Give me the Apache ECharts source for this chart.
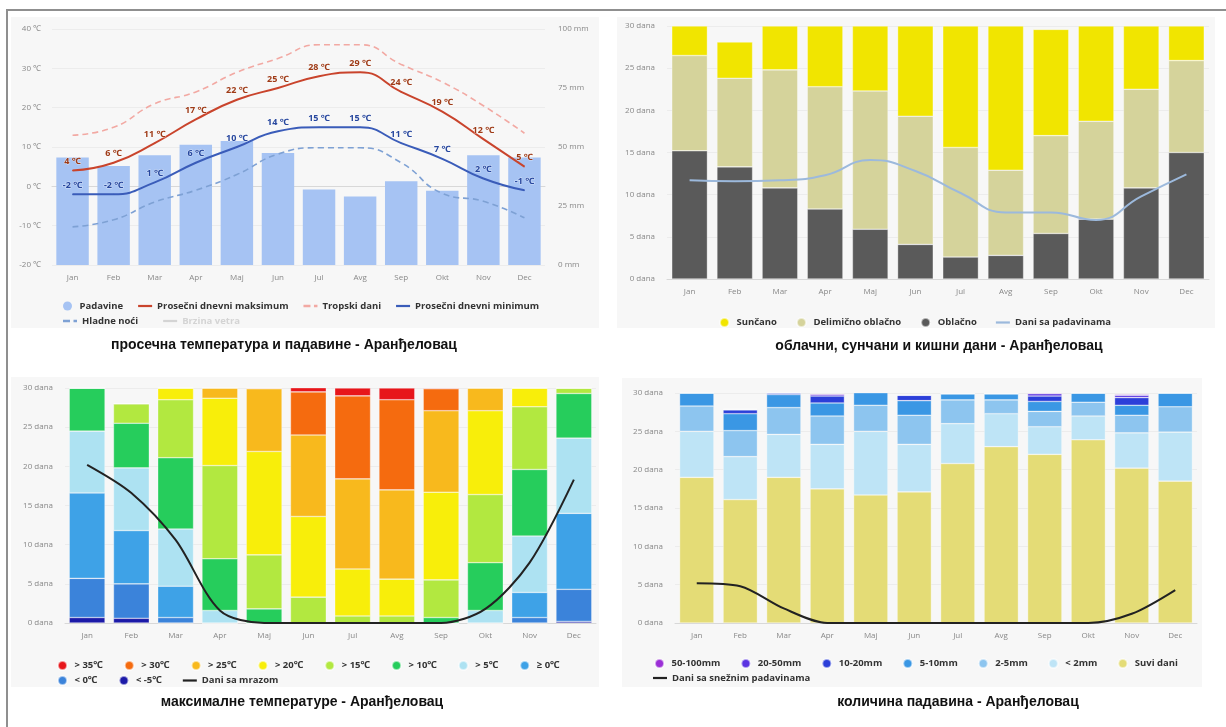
<!DOCTYPE html>
<html><head><meta charset="utf-8">
<script src="https://cdn.jsdelivr.net/npm/echarts@6/dist/echarts.min.js"></script>
<style>html,body{margin:0;padding:0;background:#fff}#c{width:1226px;height:727px}</style>
</head><body><div id="c"></div>
<script>
// ---------- DATA ----------
const months = ['Jan','Feb','Mar','Apr','Maj','Jun','Jul','Avg','Sep','Okt','Nov','Dec'];

// Chart 1: temperature & precipitation
const precipitation = [45.5, 42, 46.5, 51, 52.5, 47.5, 32, 29, 35.5, 31.5, 46.5, 45.5];
const avgMax = [4, 6, 11, 17, 22, 25, 28, 29, 24, 19, 12, 5];
const avgMin = [-2, -2, 1, 6, 10, 14, 15, 15, 11, 7, 2, -1];
const hotDays = [13, 15, 21, 24, 29, 32.5, 36, 36, 31, 26.5, 20.5, 13.5];
const coldNights = [-10.3, -8.5, -4, -1, 3, 8.2, 9.8, 9.8, 6, -1.8, -3.8, -8];

// Chart 2: cloudy, sunny, precipitation days
const sunnyDays = [3.5, 4.3, 5.2, 7.2, 7.7, 10.7, 14.4, 17.1, 12.6, 11.3, 7.5, 4.1];
const partlyCloudyDays = [11.3, 10.5, 14.0, 14.5, 16.4, 15.2, 13.0, 10.1, 11.6, 11.6, 11.7, 10.9];
const overcastDays = [15.2, 13.3, 10.8, 8.3, 5.9, 4.1, 2.6, 2.8, 5.4, 7.1, 10.8, 15.0];
const precipDays = [11.7, 11.6, 11.7, 12.3, 14.1, 12.8, 10.2, 7.9, 7.9, 7.0, 9.8, 12.4];

// Chart 3: maximum temperatures (days per class)
const tmaxBelowM5 = [0.7, 0.6, 0, 0, 0, 0, 0, 0, 0, 0, 0, 0.2];
const tmaxBelow0 = [5.0, 4.4, 0.7, 0, 0, 0, 0, 0, 0, 0, 0.7, 4.1];
const tmaxAbove0 = [10.9, 6.8, 4.0, 0, 0, 0, 0, 0, 0, 0, 3.2, 9.7];
const tmaxAbove5 = [7.9, 8.0, 7.3, 1.6, 0, 0, 0, 0, 0, 1.6, 7.2, 9.6];
const tmaxAbove10 = [5.5, 5.7, 9.1, 6.6, 1.8, 0, 0, 0, 0.7, 6.1, 8.5, 5.7];
const tmaxAbove15 = [0, 2.5, 7.4, 11.9, 6.9, 3.3, 0.9, 0.9, 4.8, 8.7, 8.0, 0.7];
const tmaxAbove20 = [0, 0, 1.5, 8.6, 13.2, 10.3, 6.0, 4.7, 11.2, 10.7, 2.4, 0];
const tmaxAbove25 = [0, 0, 0, 1.3, 8.0, 10.4, 11.5, 11.4, 10.4, 2.9, 0, 0];
const tmaxAbove30 = [0, 0, 0, 0, 0.1, 5.5, 10.6, 11.5, 2.8, 0, 0, 0];
const tmaxAbove35 = [0, 0, 0, 0, 0, 0.6, 1.0, 1.5, 0.1, 0, 0, 0];
const frostDays = [20.2, 16.6, 10.6, 1.6, 0, 0, 0, 0, 0, 1.8, 7.7, 18.3];

// Chart 4: precipitation amounts (days per class)
const dryDays = [19.0, 16.1, 19.0, 17.5, 16.7, 17.1, 20.8, 23.0, 22.0, 23.9, 20.2, 18.5];
const rainLt2 = [6.0, 5.6, 5.6, 5.8, 8.3, 6.2, 5.2, 4.3, 3.6, 3.1, 4.6, 6.4];
const rain2to5 = [3.3, 3.4, 3.5, 3.7, 3.4, 3.8, 3.1, 1.8, 2.0, 1.8, 2.3, 3.3];
const rain5to10 = [1.7, 2.2, 1.7, 1.7, 1.7, 1.9, 0.8, 0.8, 1.3, 1.2, 1.3, 1.8];
const rain10to20 = [0, 0.5, 0.2, 0.9, 0, 0.7, 0, 0, 0.7, 0, 1.0, 0];
const rain20to50 = [0, 0.1, 0, 0.2, 0, 0, 0, 0, 0.3, 0, 0.3, 0];
const rain50to100 = [0, 0, 0, 0.1, 0, 0, 0, 0, 0.1, 0, 0.1, 0];
const snowDays = [5.2, 4.8, 1.9, 0, 0, 0, 0, 0, 0, 0, 1.2, 4.3];

// ---------- CHART ----------
const FONT = '"Open Sans", "Noto Sans", sans-serif';
const axisLbl = {color:'#888', fontSize:8, fontFamily:FONT};
const legendText = {fontSize:9.5, fontWeight:'bold', color:'#333', fontFamily:FONT};
const LINE_ICON = 'path://M0,0L14,0L14,2.2L0,2.2Z';
const DASH_ICON = 'path://M0,0L6,0L6,2.2L0,2.2Z M9,0L12,0L12,2.2L9,2.2Z';

function xAx(g){ return {gridIndex:g, type:'category', data:months,
  axisLine:{lineStyle:{color:'#d8d8d8'}}, axisTick:{show:false},
  axisLabel:Object.assign({margin:9}, axisLbl)}; }
function dayAx(g){ return {gridIndex:g, type:'value', min:0, max:30, interval:5,
  axisLabel:Object.assign({formatter:'{value} dana', margin:12}, axisLbl),
  splitLine:{lineStyle:{color:'#ececec'}}}; }

const barBorder = {borderColor:'rgba(255,255,255,0.55)', borderWidth:0.6};

const tempBands = [
  ['< -5℃', tmaxBelowM5, '#1c1aa8'],
  ['< 0℃', tmaxBelow0, '#3b83da'],
  ['≥ 0℃', tmaxAbove0, '#3ea2e7'],
  ['> 5℃', tmaxAbove5, '#ade2f2'],
  ['> 10℃', tmaxAbove10, '#26cd5c'],
  ['> 15℃', tmaxAbove15, '#b2e840'],
  ['> 20℃', tmaxAbove20, '#f8ee0a'],
  ['> 25℃', tmaxAbove25, '#f8b91d'],
  ['> 30℃', tmaxAbove30, '#f56b0f'],
  ['> 35℃', tmaxAbove35, '#e7161b']
];
const rainBands = [
  ['Suvi dani', dryDays, '#e4dc76'],
  ['< 2mm', rainLt2, '#bee4f6'],
  ['2-5mm', rain2to5, '#8dc5ef'],
  ['5-10mm', rain5to10, '#3a97e4'],
  ['10-20mm', rain10to20, '#2c3fd9'],
  ['20-50mm', rain20to50, '#5b34e2'],
  ['50-100mm', rain50to100, '#9b2fd6']
];

function tempLabel(color){
  return {show:true, position:'top', distance:4, formatter:'{c} ℃', fontSize:9, fontWeight:'bold',
    color:color, fontFamily:FONT, textBorderColor:'rgba(255,255,255,0.5)', textBorderWidth:1};
}

const series = [
  // chart 1
  {name:'Padavine', type:'bar', xAxisIndex:0, yAxisIndex:1, data:precipitation,
   barCategoryGap:'21%', itemStyle:{color:'#a6c3f3'}},
  {name:'Tropski dani', type:'line', xAxisIndex:0, yAxisIndex:0, data:hotDays, smooth:true,
   symbol:'none', lineStyle:{color:'#f2a9a3', width:1.6, type:[6,4]}, itemStyle:{color:'#f2a9a3'}},
  {name:'Hladne noći', type:'line', xAxisIndex:0, yAxisIndex:0, data:coldNights, smooth:true,
   symbol:'none', lineStyle:{color:'#7ea1d4', width:1.6, type:[6,4]}, itemStyle:{color:'#7ea1d4'}},
  {name:'Prosečni dnevni maksimum', type:'line', xAxisIndex:0, yAxisIndex:0, data:avgMax, smooth:true,
   symbol:'circle', symbolSize:1, showSymbol:true, lineStyle:{color:'#c9442c', width:2}, itemStyle:{color:'#c9442c'},
   label:tempLabel('#9e3a16')},
  {name:'Prosečni dnevni minimum', type:'line', xAxisIndex:0, yAxisIndex:0, data:avgMin, smooth:true,
   symbol:'circle', symbolSize:1, showSymbol:true, lineStyle:{color:'#3a5cb9', width:2}, itemStyle:{color:'#3a5cb9'},
   label:tempLabel('#27479e')},
  {name:'Brzina vetra', type:'line', xAxisIndex:0, yAxisIndex:0, data:[], symbol:'none',
   lineStyle:{color:'#cccccc'}, itemStyle:{color:'#cccccc'}},
  // chart 2
  {name:'Oblačno', type:'bar', stack:'cloud', xAxisIndex:1, yAxisIndex:2, data:overcastDays,
   barCategoryGap:'21%', itemStyle:Object.assign({color:'#5a5a5a'}, barBorder)},
  {name:'Delimično oblačno', type:'bar', stack:'cloud', xAxisIndex:1, yAxisIndex:2, data:partlyCloudyDays,
   itemStyle:Object.assign({color:'#d5d39b'}, barBorder)},
  {name:'Sunčano', type:'bar', stack:'cloud', xAxisIndex:1, yAxisIndex:2, data:sunnyDays,
   itemStyle:Object.assign({color:'#f1e500'}, barBorder)},
  {name:'Dani sa padavinama', type:'line', xAxisIndex:1, yAxisIndex:2, data:precipDays, smooth:true,
   symbol:'none', lineStyle:{color:'#9cb9dc', width:2}, itemStyle:{color:'#9cb9dc'}}
];
tempBands.forEach(function(b){
  series.push({name:b[0], type:'bar', stack:'tmax', xAxisIndex:2, yAxisIndex:3, data:b[1],
    barCategoryGap:'19%', itemStyle:Object.assign({color:b[2]}, barBorder)});
});
series.push({name:'Dani sa mrazom', type:'line', xAxisIndex:2, yAxisIndex:3, data:frostDays, smooth:0.3,
  symbol:'none', lineStyle:{color:'#222', width:2}, itemStyle:{color:'#222'}});
rainBands.forEach(function(b){
  series.push({name:b[0], type:'bar', stack:'rain', xAxisIndex:3, yAxisIndex:4, data:b[1],
    barCategoryGap:'21%', itemStyle:Object.assign({color:b[2]}, barBorder)});
});
series.push({name:'Dani sa snežnim padavinama', type:'line', xAxisIndex:3, yAxisIndex:4, data:snowDays, smooth:0.3,
  symbol:'none', lineStyle:{color:'#222', width:2}, itemStyle:{color:'#222'}});

function circ(n){ return {name:n, icon:'circle'}; }
function ln(n){ return {name:n, icon:LINE_ICON}; }
function dash(n){ return {name:n, icon:DASH_ICON}; }
function leg(data, left, top, gap, extra){
  return Object.assign({data:data, left:left, top:top, padding:0, itemGap:gap, itemWidth:14, itemHeight:9,
    textStyle:legendText, inactiveColor:'#d4d4d4'}, extra||{});
}

const titleFont = 'bold 14px "Liberation Sans", Arial, sans-serif';
function titleText(t, x, y){ return {type:'text', z:10, style:{text:t, x:x, y:y, align:'center', verticalAlign:'middle',
  textAlign:'center', textVerticalAlign:'middle', font:titleFont, fill:'#111'}}; }
function bg(x, y, w, h){ return {type:'rect', z:-10, shape:{x:x, y:y, width:w, height:h}, style:{fill:'#f7f7f7'}}; }

const option = {
  animation:false,
  backgroundColor:'#ffffff',
  graphic:[
    bg(11, 17, 588, 311),
    bg(617, 17, 598, 311),
    bg(11, 377, 588, 310),
    bg(622, 378, 580, 309),
    {type:'rect', z:-5, shape:{x:7, y:10, width:1240, height:740}, style:{fill:'none', stroke:'#8f8f8f', lineWidth:2}},
    titleText('просечна температура и падавине - Аранђеловац', 284, 345),
    titleText('облачни, сунчани и кишни дани - Аранђеловац', 939, 346),
    titleText('максималне температуре - Аранђеловац', 302, 702),
    titleText('количина падавина - Аранђеловац', 958, 702)
  ],
  grid:[
    {left:52, top:29, width:493, height:236},
    {left:667, top:26, width:542, height:253},
    {left:65, top:388, width:531, height:235},
    {left:675, top:393, width:522, height:230}
  ],
  xAxis:[xAx(0), xAx(1), xAx(2), xAx(3)],
  yAxis:[
    {gridIndex:0, type:'value', min:-20, max:40, interval:10,
     axisLabel:Object.assign({formatter:'{value} ℃', margin:11}, axisLbl),
     splitLine:{lineStyle:{color:'#ececec'}}},
    {gridIndex:0, type:'value', position:'right', min:0, max:100, interval:25,
     axisLabel:Object.assign({formatter:'{value} mm', margin:13}, axisLbl),
     splitLine:{show:false}},
    dayAx(1), dayAx(2), dayAx(3)
  ],
  legend:[
    leg([circ('Padavine'), ln('Prosečni dnevni maksimum'), dash('Tropski dani'), ln('Prosečni dnevni minimum')], 63, 301, 15),
    leg([dash('Hladne noći'), ln('Brzina vetra')], 63, 316, 25, {selected:{'Brzina vetra':false}}),
    leg([circ('Sunčano'), circ('Delimično oblačno'), circ('Oblačno'), ln('Dani sa padavinama')], 719, 317, 19),
    leg(['> 35℃','> 30℃','> 25℃','> 20℃','> 15℃','> 10℃','> 5℃','≥ 0℃'].map(circ), 57, 660, 21),
    leg([circ('< 0℃'), circ('< -5℃'), ln('Dani sa mrazom')], 57, 675, 21),
    leg(['50-100mm','20-50mm','10-20mm','5-10mm','2-5mm','< 2mm','Suvi dani'].map(circ), 654, 658, 20),
    leg([ln('Dani sa snežnim padavinama')], 653, 673, 20)
  ],
  series:series
};

const chart = echarts.init(document.getElementById('c'));
chart.setOption(option);
</script>
</body></html>
